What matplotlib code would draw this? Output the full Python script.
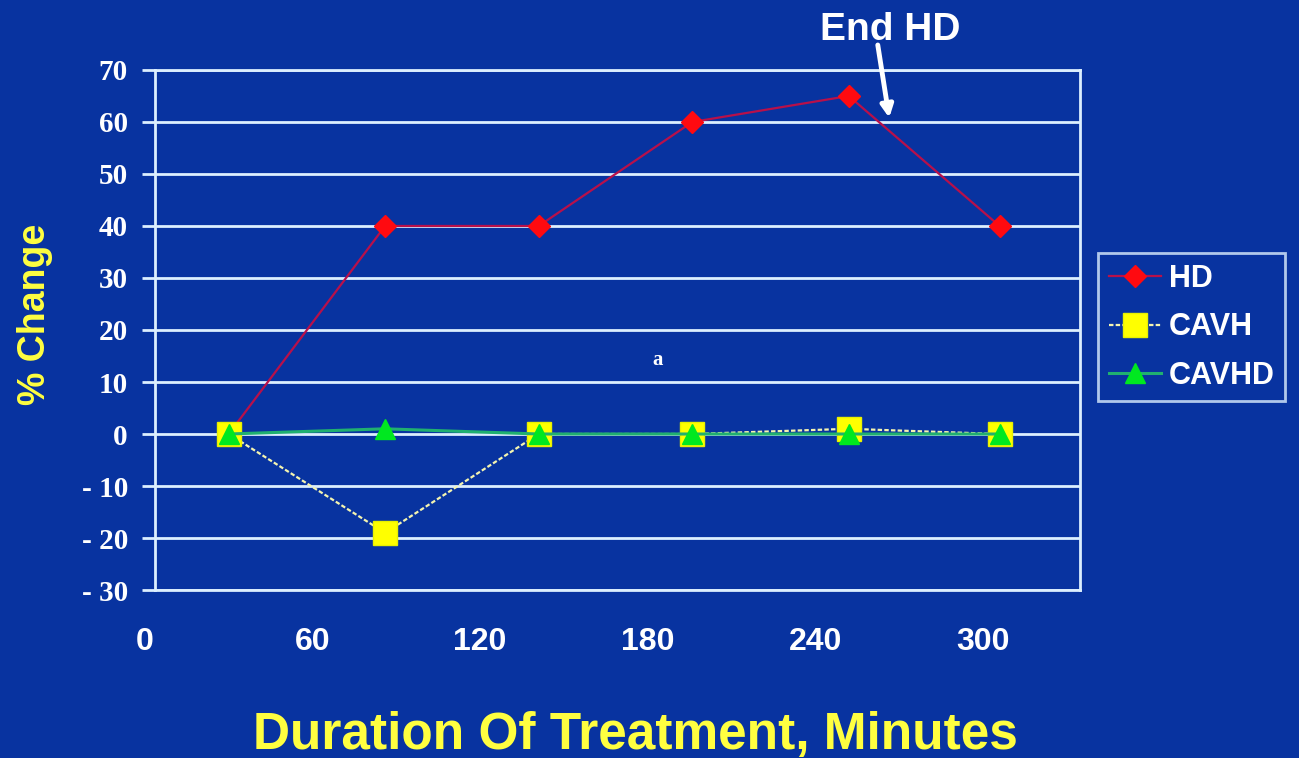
import matplotlib.pyplot as plt
from matplotlib.transforms import blended_transform_factory

# data
minutes = [30, 86, 141, 196, 252, 306]
hd = [0, 40, 40, 60, 65, 40]
cavh = [0, -19, 0, 0, 1, 0]
cavhd = [0, 1, 0, 0, 0, 0]
xtick_vals = [0, 60, 120, 180, 240, 300]
ytick_vals = [-30, -20, -10, 0, 10, 20, 30, 40, 50, 60, 70]

bg = '#0833a0'
grid_col = '#dcefff'

fig = plt.figure(figsize=(12.99, 7.58), dpi=100)
fig.patch.set_facecolor(bg)
ax = fig.add_axes([0.1193, 0.2216, 0.7121, 0.6861])
ax.set_facecolor(bg)

ax.set_xlim(3.6, 334.8)
ax.set_ylim(-30, 70)

ax.plot(minutes, hd, color='#b8104a', lw=1.6, marker='D', ms=11,
        mfc='#ff0a10', mec='#ff0a10', label='HD', zorder=4)
ax.plot(minutes, cavh, color='#f4f4b0', lw=1.6, ls=(0, (2, 1)), marker='s', ms=17,
        mfc='#ffff00', mec='#e8f000', label='CAVH', zorder=5)
ax.plot(minutes, cavhd, color='#20b070', lw=2.2, marker='^', ms=14,
        mfc='#00e820', mec='#00e820', label='CAVHD', zorder=6)

# frame and grid
ax.set_yticks(ytick_vals)
ax.set_yticklabels([str(v) if v >= 0 else '- ' + str(-v) for v in ytick_vals],
                   fontfamily='Liberation Serif', fontweight='bold', fontsize=21, color='white')
ax.set_xticks([])
ax.tick_params(axis='y', length=9.5, width=2, color=grid_col, pad=10)
ax.grid(axis='y', color=grid_col, lw=2)
ax.set_axisbelow(True)
for s in ax.spines.values():
    s.set_color(grid_col)
    s.set_linewidth(2)

# x labels sit on their own, slightly off the point positions
tr = blended_transform_factory(ax.transData, ax.transAxes)
for v in xtick_vals:
    ax.text(v, -0.1, str(v), transform=tr, ha='center', va='center', color='white',
            fontfamily='Liberation Sans', fontweight='bold', fontsize=23, clip_on=False)

fig.text(0.489, 0.03, 'Duration Of Treatment, Minutes', ha='center', va='center',
         color='#ffff40', fontfamily='Liberation Sans', fontweight='bold', fontsize=37)
fig.text(0.027, 0.585, '% Change', ha='center', va='center', rotation=90,
         color='#ffff40', fontfamily='Liberation Sans', fontweight='bold', fontsize=27)

ax.text(183.7, 14.2, 'a', ha='center', va='center', color='white',
        fontfamily='Liberation Serif', fontweight='bold', fontsize=15)

ax.text(267, 77.6, 'End HD', ha='center', va='center', color='white',
        fontfamily='Liberation Sans', fontweight='bold', fontsize=28, clip_on=False)
ax.annotate('', xy=(266.5, 60.8), xytext=(262.4, 74.8), annotation_clip=False,
            arrowprops=dict(arrowstyle='-|>', color='white', lw=3.5, mutation_scale=18,
                            shrinkA=0, shrinkB=0))

leg = ax.legend(loc='center left', bbox_to_anchor=(1.0, 0.505), frameon=True,
                fancybox=False, facecolor=bg, edgecolor=grid_col, handlelength=1.7,
                handletextpad=0.25, labelspacing=0.6, borderpad=0.35, borderaxespad=0.6,
                prop={'family': 'Liberation Sans', 'weight': 'bold', 'size': 22})
leg.get_frame().set_linewidth(2)
for t in leg.get_texts():
    t.set_color('white')

fig.savefig('out.png', dpi=100, facecolor=bg)
